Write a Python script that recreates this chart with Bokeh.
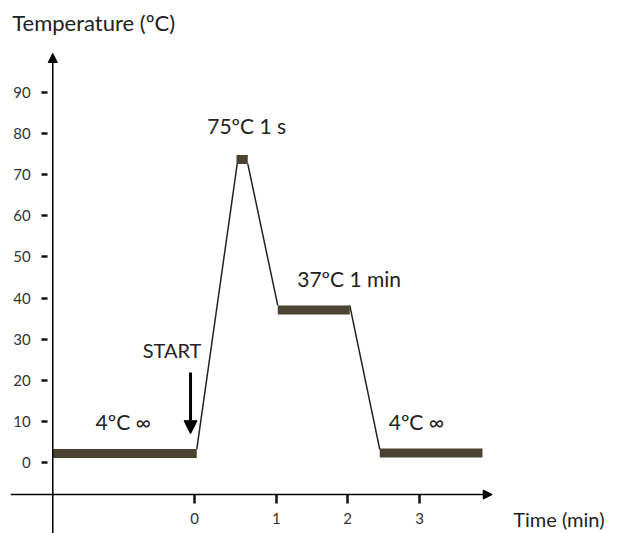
from bokeh.plotting import figure
from bokeh.models import Range1d, FixedTicker, CustomJSTickFormatter, Arrow, NormalHead, ColumnDataSource
from bokeh.core.properties import value
from bokeh.embed import file_html
from bokeh.resources import INLINE

# ---- data (time in min, temperature in ºC) ----
y_ticks = [0, 10, 20, 30, 40, 50, 60, 70, 80, 90]
x_tick_pos = [0.0, 1.09, 2.04, 3.0]
x_tick_labels = ["0", "1", "2", "3"]

# hold steps (thick bars)
hold_start = [-1.89, 0.56, 1.11, 2.47]
hold_end = [0.03, 0.71, 2.07, 3.84]
hold_temp = [2.2, 73.7, 37.1, 2.3]

# ramps between holds (thin lines): end of one hold -> start of the next
ramp_t0 = [0.03, 0.71, 2.07]
ramp_T0 = [3.2, 72.7, 38.2]
ramp_t1 = [0.57, 1.11, 2.47]
ramp_T1 = [72.7, 38.2, 3.2]

step_labels = ["4ºC ∞", "75ºC 1 s", "37ºC 1 min", "4ºC ∞"]
step_label_t = [-1.32, 0.17, 1.37, 2.59]
step_label_T = [10.0, 82.0, 44.7, 10.0]

start_label = "START"
start_label_t = -0.69
start_label_T = 27.4
start_t = -0.053
start_T_from = 21.9
start_T_to = 7.0

y_axis_at = -1.89
x_axis_at = -7.8

FONT = "Lato"

p = figure(width=619, height=533, output_backend="svg", toolbar_location=None,
           x_range=Range1d(-2.587, 5.667), y_range=Range1d(-17.27, 112.38),
           min_border=0)
p.outline_line_color = None
p.grid.visible = False
p.background_fill_color = "white"
p.border_fill_color = "white"

# axes placed inside the frame
p.yaxis.fixed_location = y_axis_at
p.yaxis.ticker = FixedTicker(ticks=y_ticks)
p.yaxis.axis_line_color = None
p.yaxis.major_tick_in = -5
p.yaxis.major_tick_out = 11
p.yaxis.major_tick_line_width = 2.5
p.yaxis.major_tick_line_color = "#111111"
p.yaxis.minor_tick_line_color = None
p.yaxis.major_label_standoff = 11
p.yaxis.major_label_text_font = FONT
p.yaxis.major_label_text_font_size = "15px"
p.yaxis.major_label_text_color = "#333333"

p.xaxis.fixed_location = x_axis_at
p.xaxis.ticker = FixedTicker(ticks=x_tick_pos)
p.xaxis.formatter = CustomJSTickFormatter(args=dict(pos=x_tick_pos, labels=x_tick_labels), code="""
    for (let i = 0; i < pos.length; i++) { if (Math.abs(pos[i] - tick) < 1e-6) return labels[i]; }
    return '';
""")
p.xaxis.axis_line_color = None
p.xaxis.major_tick_in = 0
p.xaxis.major_tick_out = 9
p.xaxis.major_tick_line_width = 2.5
p.xaxis.major_tick_line_color = "#111111"
p.xaxis.minor_tick_line_color = None
p.xaxis.major_label_standoff = 9
p.xaxis.major_label_text_font = FONT
p.xaxis.major_label_text_font_size = "15px"
p.xaxis.major_label_text_color = "#333333"

# axis lines with arrow heads
p.add_layout(Arrow(end=NormalHead(size=9, fill_color="black", line_color="black"),
                   x_start=y_axis_at, y_start=-18, x_end=y_axis_at, y_end=99.5,
                   line_width=1.5, line_color="black"))
p.add_layout(Arrow(end=NormalHead(size=9, fill_color="black", line_color="black"),
                   x_start=-2.45, y_start=x_axis_at, x_end=3.97, y_end=x_axis_at,
                   line_width=1.5, line_color="black"))

# ramps
p.segment(x0=ramp_t0, y0=ramp_T0, x1=ramp_t1, y1=ramp_T1, line_color="#222222", line_width=1.5)
# holds
p.segment(x0=hold_start, y0=hold_temp, x1=hold_end, y1=hold_temp,
          line_color="#4a4331", line_width=9, line_cap="butt")

# step labels
src = ColumnDataSource(dict(t=step_label_t, T=step_label_T, txt=step_labels))
p.text(x="t", y="T", text="txt", source=src, text_font=value(FONT), text_font_size="21px",
       text_color="#222222", text_align="left", text_baseline="middle")

# START arrow
p.text(x=[start_label_t], y=[start_label_T], text=[start_label], text_font=value(FONT),
       text_font_size="20px", text_color="#222222", text_align="left", text_baseline="middle")
p.add_layout(Arrow(end=NormalHead(size=13, fill_color="black", line_color="black"),
                   x_start=start_t, y_start=start_T_from, x_end=start_t, y_end=start_T_to,
                   line_width=3, line_color="black"))

# axis titles
p.text(x=[-2.43], y=[107.0], text=["Temperature (ºC)"], text_font=value(FONT), text_font_size="22px",
       text_color="#222222", text_align="left", text_baseline="middle")
p.text(x=[4.25], y=[-13.8], text=["Time (min)"], text_font=value(FONT), text_font_size="20px",
       text_color="#222222", text_align="left", text_baseline="middle")

open("out.html", "w").write(file_html(p, INLINE))
